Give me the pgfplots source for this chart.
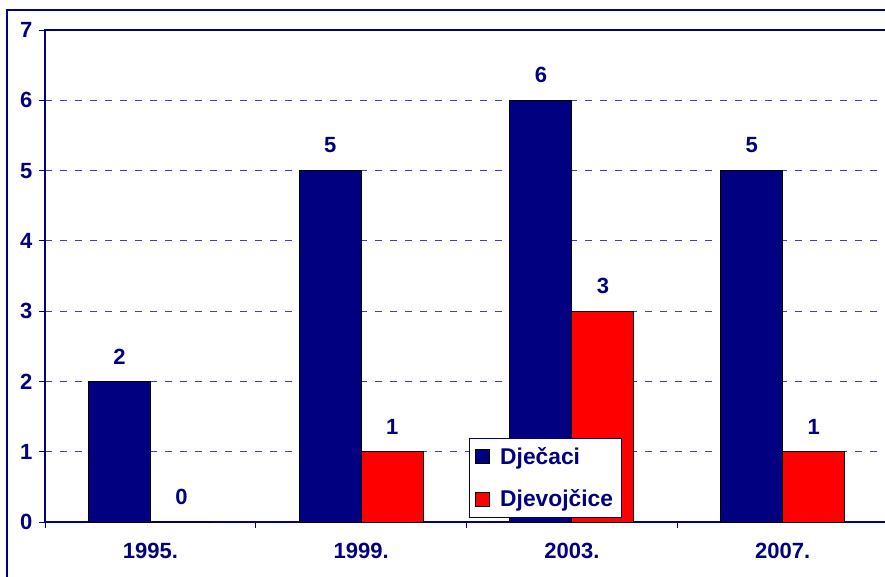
\documentclass[border=0pt]{standalone}
\usepackage{fontspec}
\setmainfont{Liberation Sans}
\usepackage{pgfplots}
\pgfplotsset{compat=1.18}
\definecolor{navy}{RGB}{0,0,128}
\definecolor{gridblue}{RGB}{64,64,176}
\definecolor{barred}{RGB}{255,0,0}
\newcommand{\chartfont}{\fontsize{22}{25}\selectfont\bfseries}
\begin{document}
\begin{tikzpicture}[x=1pt,y=1pt]
\begin{scope}
\clip (0pt,0pt) rectangle (885pt,576pt);
% outer frame
\draw[navy, line width=1.6pt] (7pt,-20pt) rectangle (905pt,566pt);
\begin{axis}[
  at={(45pt,54pt)}, anchor=south west,
  scale only axis, width=843pt, height=492pt,
  xmin=-0.5, xmax=3.5, ymin=0, ymax=7,
  axis line style={navy, line width=1.6pt},
  tick align=outside, tick pos=left,
  major tick length=6pt,
  every tick/.style={navy, line width=1pt},
  ytick={0,1,2,3,4,5,6,7},
  xtick={-0.5,0.5,1.5,2.5,3.5}, xticklabels={},
  extra x ticks={0,1,2,3},
  extra x tick labels={1995.,1999.,2003.,2007.},
  extra x tick style={major tick length=0pt, grid=none},
  ymajorgrids,
  grid style={gridblue, dash pattern=on 7pt off 8pt, line width=0.8pt},
  /pgf/number format/assume math mode=true,
  ticklabel style={font=\chartfont, text=navy},
  yticklabel style={xshift=-3pt},
  xticklabel style={yshift=-18pt},
  ybar, bar width=62pt,
  nodes near coords,
  every node near coord/.append style={font=\chartfont, text=navy, inner sep=0pt, yshift=17pt},
  legend style={at={(0.503,0.1707)}, anchor=north west, draw=navy, line width=0.8pt, fill=white,
    font=\fontsize{22.8}{25}\selectfont\bfseries, text=navy,
    inner xsep=6pt, inner ysep=7pt, row sep=20pt,
    /tikz/every odd column/.append style={column sep=8pt}},
  legend cell align=left,
  legend image code/.code={\draw[#1, draw=black, line width=0.8pt] (0pt,-7pt) rectangle (14pt,7pt);},
]
\addplot[fill=navy, draw=black, line width=0.8pt, bar shift=-31pt] coordinates {(0,2) (1,5) (2,6) (3,5)};
\addplot[fill=barred, draw=black, line width=0.8pt, bar shift=31pt] coordinates {(0,0) (1,1) (2,3) (3,1)};
\legend{Dje\v{c}aci, Djevoj\v{c}ice}
\end{axis}
\end{scope}
\pgfresetboundingbox
\useasboundingbox (0pt,0pt) rectangle (885pt,576pt);
\end{tikzpicture}
\end{document}
